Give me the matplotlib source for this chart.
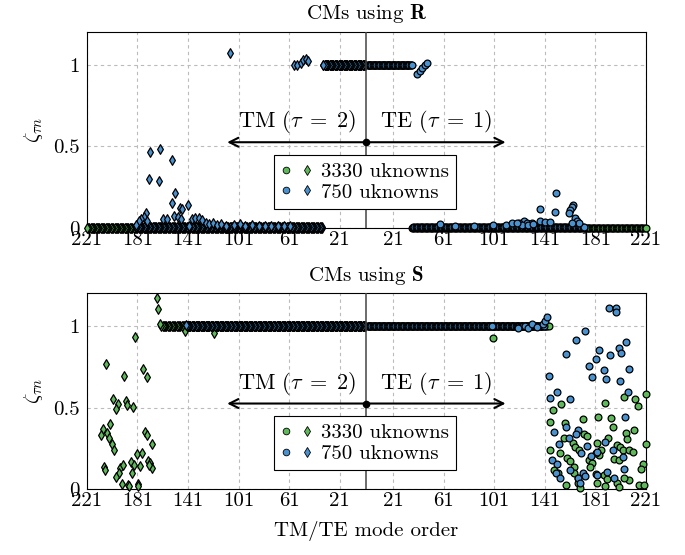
import numpy as np
import matplotlib
matplotlib.use("Agg")
import matplotlib.pyplot as plt
from matplotlib.lines import Line2D
from matplotlib.legend_handler import HandlerTuple

plt.rcParams.update({
    'font.family': 'serif',
    'font.serif': ['cmr10', 'DejaVu Serif'],
    'mathtext.fontset': 'cm',
    'axes.unicode_minus': False,
    'axes.formatter.use_mathtext': True,
    'font.size': 15,
})

GREEN = '#5fb85a'
BLUE = '#4a92cf'

# ---------------- data ----------------
tick_orders = [221, 181, 141, 101, 61, 21]
ytick_vals = [0, 0.5, 1]
ytick_labels = ['0', '0.5', '1']
legend_labels = ['3330 uknowns', '750 uknowns']

# flat runs: (first mode, last mode, zeta)
R_TM_3330_runs = [(1, 34, 1.0), (35, 221, 0.0)]
R_TE_3330_runs = [(1, 35, 1.0), (36, 221, 0.0)]
R_TM_750_runs = [(1, 34, 1.0), (35, 182, 0.005)]
R_TE_750_runs = [(1, 36, 1.0), (37, 172, 0.005)]

# individual deviating modes (mode order, zeta)
R_TM_750_n = [108, 57.5, 55, 52, 50, 48, 46,
              171, 163, 154, 172, 164, 151.5, 153.4, 147, 145.5, 141.3, 152.3, 148.8, 146.5,
              160.7, 157.5, 174, 176, 178, 180, 182, 173, 140.5, 137.8, 135.2, 132.6, 129.9,
              127, 124, 121, 118, 115, 111, 105, 100, 96, 90, 85, 80, 75, 70, 65, 60]
R_TM_750_z = [1.07, 0.998, 0.998, 1.01, 1.03, 1.033, 1.024,
              0.467, 0.484, 0.416, 0.302, 0.288, 0.216, 0.155, 0.12, 0.115, 0.139, 0.073, 0.066, 0.053,
              0.053, 0.057, 0.094, 0.07, 0.055, 0.04, 0.02, 0.04, 0.012, 0.053, 0.063, 0.059, 0.049,
              0.03, 0.025, 0.03, 0.02, 0.025, 0.015, 0.02, 0.025, 0.015, 0.02, 0.01, 0.015, 0.01, 0.015, 0.01, 0.01]
R_TE_750_n = [40, 42, 44, 46, 48,
              150.2, 137.5, 149.4, 163.4, 162.3, 161.3, 159.9, 165.2, 166.5, 167.8, 162.6,
              124.4, 127, 131, 137, 141.5, 144.9, 121, 123, 128, 132, 58.5, 70, 85, 100, 110, 115, 119]
R_TE_750_z = [0.943, 0.960, 0.978, 0.995, 1.010,
              0.212, 0.116, 0.096, 0.141, 0.127, 0.110, 0.090, 0.059, 0.045, 0.033, 0.029,
              0.045, 0.033, 0.033, 0.045, 0.039, 0.037, 0.03, 0.02, 0.02, 0.025, 0.025, 0.015, 0.015, 0.02, 0.02, 0.03, 0.03]

S_TM_3330_runs = [(1, 162, 1.0)]
S_TE_3330_runs = [(1, 143, 1.0)]
S_TM_750_runs = [(1, 142, 1.0)]
S_TE_750_runs = [(1, 140, 1.0)]

S_TM_3330_n = [165.5, 164.4, 162.8, 143.6, 120.7, 182.6, 205.5, 176.5, 173.7, 191.3, 200.2, 196.3, 197.6,
               190.0, 189.2, 184.4, 202.4, 208.5, 209.7, 204.7, 203.7, 201.3, 199.5, 175.0, 173.4, 169.4,
               181.3, 177.3, 172.9, 171.0, 169.4, 172.1, 186.0, 183.4, 178.7, 207.7, 206.3, 194.5, 192.1,
               195.3, 197.9, 185.5, 193.4, 188.7, 180.8, 187.5, 180.2]
S_TM_3330_z = [1.170, 1.104, 1.012, 0.971, 0.955, 0.935, 0.765, 0.735, 0.686, 0.694, 0.553, 0.520, 0.490,
               0.541, 0.516, 0.504, 0.402, 0.369, 0.332, 0.343, 0.312, 0.275, 0.243, 0.353, 0.332, 0.275,
               0.218, 0.220, 0.175, 0.159, 0.132, 0.149, 0.169, 0.149, 0.145, 0.135, 0.118, 0.132, 0.149,
               0.098, 0.073, 0.098, 0.032, 0.026, 0.030, 0.022, 0.022]
S_TM_750_n = [142.3]
S_TM_750_z = [1.006]

S_TE_3330_n = [100.2, 144.1, 220.6, 212.4, 214.5, 203.7, 188.4, 154.2, 147.3, 145.5, 156.8, 170.8, 183.2,
               193.7, 195.0, 211.3, 205.5, 206.1, 172.3, 174.5, 156.0, 221.3, 191.0, 182.4, 144.9, 153.4,
               163.1, 165.2, 168.1, 185.8, 183.9, 181.3, 198.2, 200.8, 202.9, 207.4, 210.8, 158.6, 160.7,
               175.7, 178.4, 176.5, 196.0, 199.5, 218.4, 217.2, 148.1, 151.2, 163.9, 181.6, 187.6, 190.3,
               157.6, 167.0, 169.2, 182.4, 188.9, 198.2, 199.5, 215.3, 219.2, 207.4, 203.4, 164.0, 167.0]
S_TE_3330_z = [0.928, 1.0, 0.583, 0.551, 0.510, 0.563, 0.530, 0.522, 0.486, 0.414, 0.408, 0.429, 0.445,
               0.439, 0.380, 0.363, 0.343, 0.306, 0.339, 0.328, 0.312, 0.277, 0.312, 0.282, 0.241, 0.224,
               0.282, 0.261, 0.241, 0.241, 0.210, 0.224, 0.271, 0.261, 0.241, 0.241, 0.230, 0.190, 0.175,
               0.179, 0.163, 0.138, 0.184, 0.179, 0.155, 0.122, 0.118, 0.102, 0.138, 0.094, 0.088, 0.061,
               0.026, 0.037, 0.006, 0.037, 0.020, 0.037, 0.012, 0.026, 0.026, 0.057, 0.067, 0.100, 0.070]
S_TE_750_n = [99, 120, 125, 128, 131, 135, 139.7, 141.5, 142.8,
              191.6, 197.6, 197.1, 172.6, 165.5, 157.6, 184.2, 192.3, 181.6, 199.5, 201.3, 205.3, 176.3,
              187.4, 178.7, 189.5, 200.3, 207.6, 144.7, 150.4, 145.5, 161.3, 206.6, 204.5, 158.1, 148.6,
              167.3, 166.0, 152.3, 160.2, 174.5, 188.7, 194.7, 147.0, 151.0, 169.7, 182.4, 177.6, 202.9,
              203.4, 171.3, 172.6, 190.3, 195.5, 150.2, 153.4, 167.3, 169.2, 161.3, 182.4]
S_TE_750_z = [1.0, 0.99, 1.0, 0.985, 1.01, 0.995, 1.012, 1.033, 1.057,
              1.112, 1.112, 1.084, 0.969, 0.914, 0.827, 0.853, 0.820, 0.796, 0.867, 0.837, 0.902, 0.757,
              0.730, 0.690, 0.674, 0.665, 0.735, 0.696, 0.598, 0.557, 0.553, 0.596, 0.445, 0.383, 0.349,
              0.363, 0.337, 0.279, 0.312, 0.265, 0.288, 0.241, 0.179, 0.153, 0.222, 0.230, 0.204, 0.196,
              0.122, 0.098, 0.081, 0.108, 0.067, 0.098, 0.067, 0.067, 0.037, 0.118, 0.088]


def expand(runs, extra_n, extra_z):
    n, z = [], []
    for a, b, v in runs:
        k = np.arange(a, b + 1)
        n.append(k)
        z.append(np.full(k.size, v))
    n.append(np.asarray(extra_n, float))
    z.append(np.asarray(extra_z, float))
    return np.concatenate(n), np.concatenate(z)


panels = [
    (r'CMs using $\mathbf{R}$',
     [(R_TM_3330_runs, [], [], 'TM', GREEN), (R_TE_3330_runs, [], [], 'TE', GREEN),
      (R_TM_750_runs, R_TM_750_n, R_TM_750_z, 'TM', BLUE), (R_TE_750_runs, R_TE_750_n, R_TE_750_z, 'TE', BLUE)]),
    (r'CMs using $\mathbf{S}$',
     [(S_TM_3330_runs, S_TM_3330_n, S_TM_3330_z, 'TM', GREEN), (S_TE_3330_runs, S_TE_3330_n, S_TE_3330_z, 'TE', GREEN),
      (S_TM_750_runs, S_TM_750_n, S_TM_750_z, 'TM', BLUE), (S_TE_750_runs, S_TE_750_n, S_TE_750_z, 'TE', BLUE)]),
]

fig = plt.figure(figsize=(6.85, 5.55), dpi=100)
rects = [[0.1266, 0.5892, 0.8165, 0.3532], [0.1266, 0.1184, 0.8165, 0.3532]]

xt = [-t for t in tick_orders] + [t for t in tick_orders[::-1]]
xl = [str(abs(t)) for t in xt]

for i, (rect, (title, series)) in enumerate(zip(rects, panels)):
    ax = fig.add_axes(rect)
    for runs, en, ez, kind, col in series:
        n, z = expand(runs, en, ez)
        if kind == 'TM':
            ax.scatter(-n, z, marker='d', s=24, c=col, edgecolors='k', linewidths=0.9,
                       clip_on=False, zorder=3)
        else:
            ax.scatter(n, z, marker='o', s=24, c=col, edgecolors='k', linewidths=0.9,
                       clip_on=False, zorder=3)
    ax.axvline(0, color='#444444', lw=1.1, zorder=3.5)
    ax.set_xlim(-221, 221)
    ax.set_ylim(0, 1.2)
    ax.set_xticks(xt)
    ax.set_xticklabels(xl)
    ax.set_yticks(ytick_vals)
    ax.set_yticklabels(ytick_labels)
    ax.tick_params(length=0, labelsize=15)
    ax.tick_params(axis='x', pad=2)
    ax.tick_params(axis='y', pad=5)
    ax.grid(True, ls=(0, (3, 3)), color='#bbbbbb', lw=0.8, zorder=0)
    ax.set_axisbelow(True)
    for sp in ax.spines.values():
        sp.set_linewidth(0.8)
    ax.set_title(title, fontsize=15, pad=9)
    ax.set_ylabel(r'$\zeta_{\tau n}$', fontsize=15, labelpad=6)

    # direction arrows
    ax.annotate('', xy=(-110, 0.525), xytext=(0, 0.525),
                arrowprops=dict(arrowstyle='->', lw=1.5, color='k', mutation_scale=16,
                                shrinkA=0, shrinkB=0), zorder=4)
    ax.annotate('', xy=(110, 0.525), xytext=(0, 0.525),
                arrowprops=dict(arrowstyle='->', lw=1.5, color='k', mutation_scale=16,
                                shrinkA=0, shrinkB=0), zorder=4)
    ax.plot([0], [0.525], 'o', color='k', ms=4.5, zorder=5)
    ax.text(-55, 0.65, r'TM $(\tau\;=\;2)$', ha='center', va='center', fontsize=16)
    ax.text(55, 0.65, r'TE $(\tau\;=\;1)$', ha='center', va='center', fontsize=16)

    h = [(Line2D([], [], ls='none', marker='o', ms=4.8, mfc=GREEN, mec='k', mew=0.6),
          Line2D([], [], ls='none', marker='d', ms=4.8, mfc=GREEN, mec='k', mew=0.6)),
         (Line2D([], [], ls='none', marker='o', ms=4.8, mfc=BLUE, mec='k', mew=0.6),
          Line2D([], [], ls='none', marker='d', ms=4.8, mfc=BLUE, mec='k', mew=0.6))]
    leg = ax.legend(h, legend_labels, handler_map={tuple: HandlerTuple(ndivide=None, pad=0.5)},
                    loc='upper center', bbox_to_anchor=(0.4975, 0.372), fancybox=False,
                    edgecolor='k', framealpha=1, borderpad=0.35, handlelength=1.5,
                    handletextpad=0.4, labelspacing=0.1, fontsize=15, borderaxespad=0)
    leg.get_frame().set_linewidth(0.8)
    leg.set_zorder(6)

    if i == 1:
        ax.set_xlabel('TM/TE mode order', fontsize=15, labelpad=8)

fig.savefig('out.png', dpi=100)
